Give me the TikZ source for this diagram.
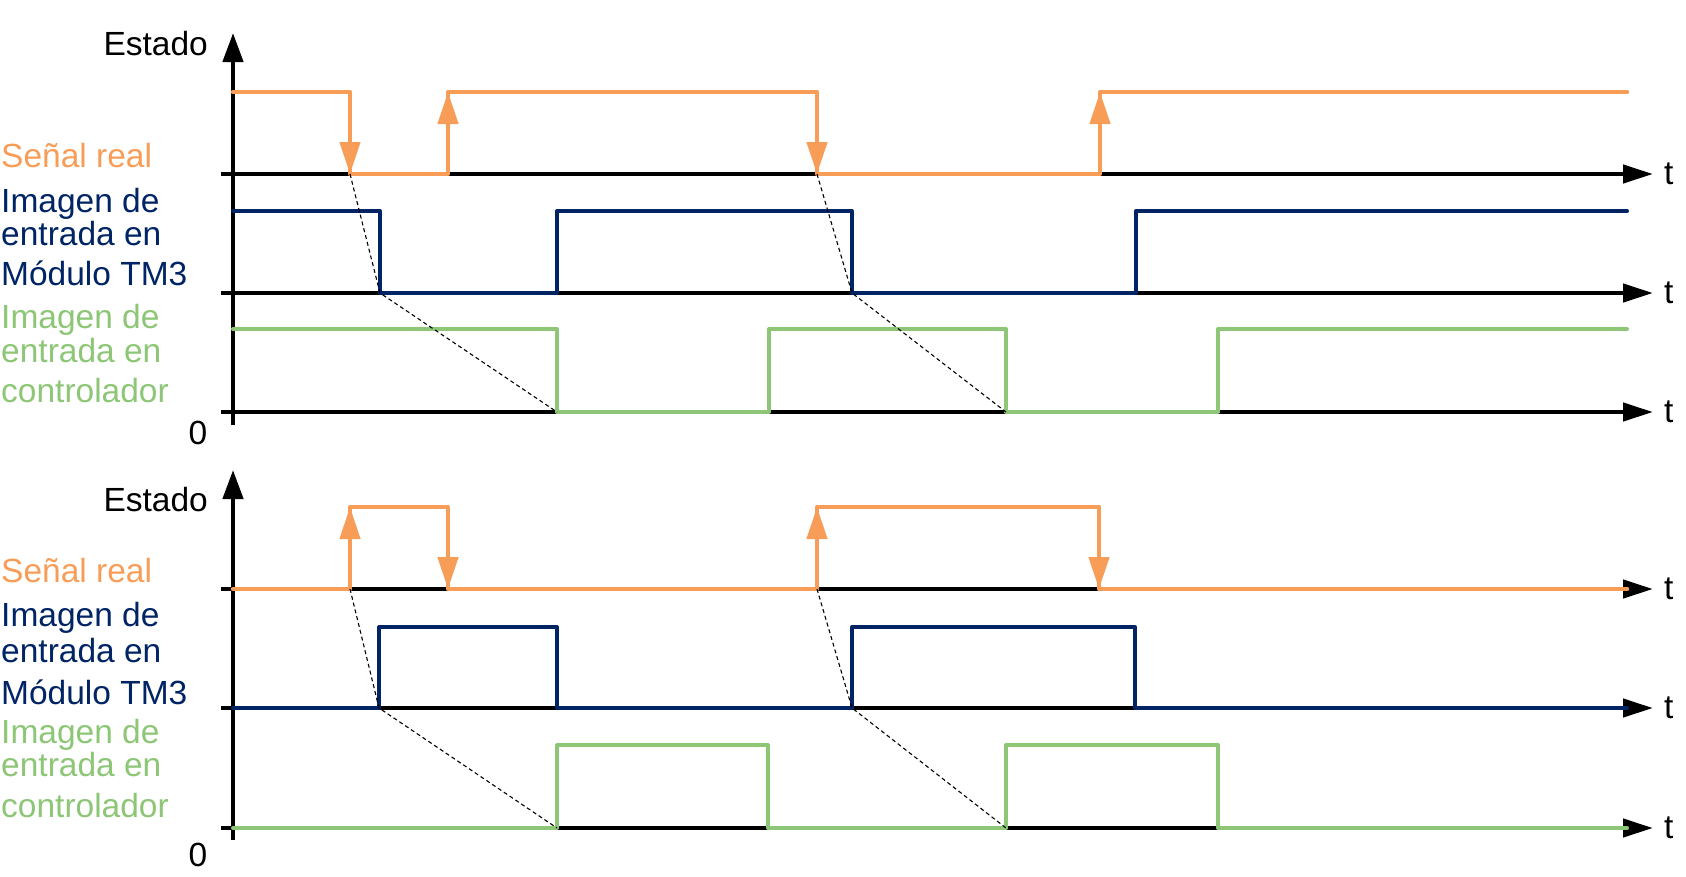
\documentclass[tikz,border=0pt]{standalone}
\usepackage{fontspec}
\setmainfont{Liberation Sans}
\usepackage{xcolor}
\usepackage{tikz}
\usetikzlibrary{arrows.meta}
\definecolor{senal}{RGB}{247,157,88}
\definecolor{modulo}{RGB}{0,36,100}
\definecolor{ctrl}{RGB}{141,198,118}

\begin{document}
\begin{tikzpicture}[x=1pt, y=-1pt,
				taxis/.style={black, line width=4.5pt, -{Triangle[width=18pt,length=30pt]}},
				yaxis/.style={black, line width=4.5pt, -{Triangle[width=20pt,length=29pt]}},
				realsig/.style={senal, line width=4.5pt, line cap=round, line join=round},
				realedge/.style={senal, line width=4.5pt, -{Triangle[width=20pt,length=32pt]}},
				modsig/.style={modulo, line width=4pt, line cap=round, line join=round},
				ctrlsig/.style={ctrl, line width=4pt, line cap=round, line join=round},
				delay/.style={black, line width=1.1pt, dash pattern=on 4pt off 3pt},
				lbl/.style={font=\fontsize{33.5}{40}\selectfont, inner sep=0pt, anchor=base west},
				]
				\useasboundingbox (0,0) rectangle (1686,876);
				
				%Axes
				\draw[yaxis] (233,425) -- (233,33);
				\draw[taxis] (221,174) -- (1653,174);
				\draw[taxis] (221,293) -- (1653,293);
				\draw[taxis] (221,412) -- (1653,412);
				\draw[yaxis] (233,840) -- (233,470);
				\draw[taxis] (221,589) -- (1653,589);
				\draw[taxis] (221,708) -- (1653,708);
				\draw[taxis] (221,828) -- (1653,828);
				
				%Nodes
				\node[lbl, anchor=base east](estadoA) at (208,55){Estado};
				\node[lbl, text=senal](senalA) at (1,167){Señal real};
				\node[lbl, text=modulo](moduloA1) at (1,212){Imagen de};
				\node[lbl, text=modulo](moduloA2) at (1,245){entrada en};
				\node[lbl, text=modulo](moduloA3) at (1,285){Módulo TM3};
				\node[lbl, text=ctrl](ctrlA1) at (1,328){Imagen de};
				\node[lbl, text=ctrl](ctrlA2) at (1,362){entrada en};
				\node[lbl, text=ctrl](ctrlA3) at (1,402){controlador};
				\node[lbl, anchor=base](ceroA) at (198,444){0};
				\node[lbl](tA1) at (1664,184){t};
				\node[lbl](tA2) at (1664,303){t};
				\node[lbl](tA3) at (1664,422){t};
				
				\node[lbl, anchor=base east](estadoB) at (208,511){Estado};
				\node[lbl, text=senal](senalB) at (1,582){Señal real};
				\node[lbl, text=modulo](moduloB1) at (1,626){Imagen de};
				\node[lbl, text=modulo](moduloB2) at (1,662){entrada en};
				\node[lbl, text=modulo](moduloB3) at (1,704){Módulo TM3};
				\node[lbl, text=ctrl](ctrlB1) at (1,743){Imagen de};
				\node[lbl, text=ctrl](ctrlB2) at (1,776){entrada en};
				\node[lbl, text=ctrl](ctrlB3) at (1,817){controlador};
				\node[lbl, anchor=base](ceroB) at (198,866){0};
				\node[lbl](tB1) at (1664,599){t};
				\node[lbl](tB2) at (1664,718){t};
				\node[lbl](tB3) at (1664,838){t};
				
				%Signals, upper diagram
				\draw[realsig] (233,92) -- (350,92) -- (350,174) -- (448,174) -- (448,92) -- (817,92)
					-- (817,174) -- (1100,174) -- (1100,92) -- (1627,92);
				\draw[realedge] (350,92) -- (350,174);
				\draw[realedge] (448,174) -- (448,92);
				\draw[realedge] (817,92) -- (817,174);
				\draw[realedge] (1100,174) -- (1100,92);
				\draw[modsig] (233,211) -- (380,211) -- (380,293) -- (557,293) -- (557,211) -- (852,211)
					-- (852,293) -- (1136,293) -- (1136,211) -- (1627,211);
				\draw[ctrlsig] (233,329) -- (557,329) -- (557,412) -- (769,412) -- (769,329) -- (1006,329)
					-- (1006,412) -- (1218,412) -- (1218,329) -- (1627,329);
				
				%Signals, lower diagram
				\draw[realsig] (233,589) -- (350,589) -- (350,507) -- (448,507) -- (448,589) -- (817,589)
					-- (817,507) -- (1099,507) -- (1099,589) -- (1627,589);
				\draw[realedge] (350,589) -- (350,507);
				\draw[realedge] (448,507) -- (448,589);
				\draw[realedge] (817,589) -- (817,507);
				\draw[realedge] (1099,507) -- (1099,589);
				\draw[modsig] (233,708) -- (379,708) -- (379,627) -- (557,627) -- (557,708) -- (852,708)
					-- (852,627) -- (1135,627) -- (1135,708) -- (1627,708);
				\draw[ctrlsig] (233,828) -- (557,828) -- (557,745) -- (768,745) -- (768,828) -- (1006,828)
					-- (1006,745) -- (1218,745) -- (1218,828) -- (1627,828);
				
				%Delays
				\draw[delay] (350,174) -- (380,293) -- (557,412);
				\draw[delay] (817,174) -- (852,293) -- (1006,412);
				\draw[delay] (350,589) -- (379,708) -- (557,828);
				\draw[delay] (817,589) -- (852,708) -- (1006,828);
				
			\end{tikzpicture}
\end{document}
